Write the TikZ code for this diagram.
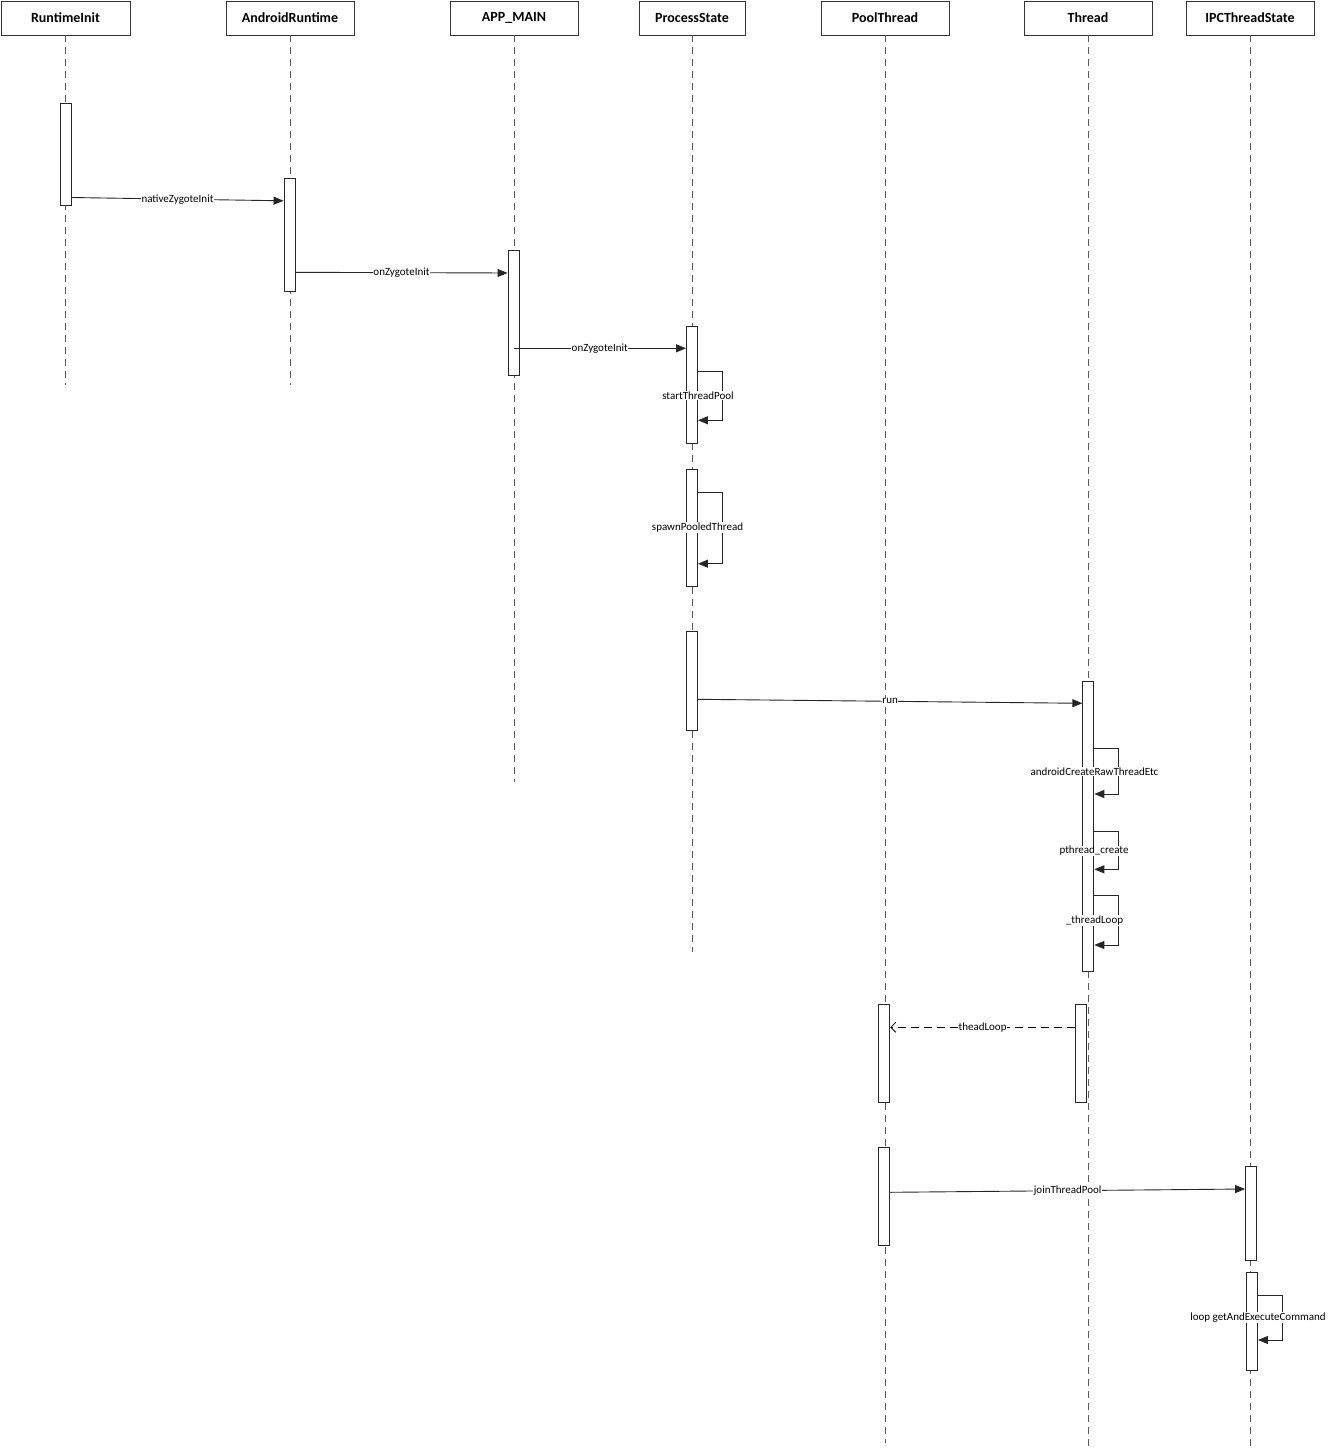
\documentclass[tikz,border=0pt]{standalone}
\usepackage{fontspec}
\setmainfont{Carlito}
\usetikzlibrary{arrows.meta}
\tikzset{
  header/.style={draw=black!80, line width=0.9pt, fill=white, minimum height=34pt, inner sep=0pt, font=\fontsize{14}{16}\selectfont\bfseries},
  lifeline/.style={draw=black!65, line width=0.9pt, dash pattern=on 7pt off 5pt},
  act/.style={draw=black!85, line width=0.9pt, fill=white, minimum width=11pt, inner sep=0pt},
  msg/.style={draw=black!85, line width=0.9pt, -{Triangle[length=10pt,width=8pt]}},
  reply/.style={draw=black, line width=0.8pt, dash pattern=on 8pt off 5pt, -{Straight Barb[length=5pt,width=10pt]}},
  lbl/.style={fill=white, inner sep=0.6pt, font=\fontsize{11}{12}\selectfont, text=black}
}
\begin{document}
\begin{tikzpicture}[x=1pt,y=-1pt]
\useasboundingbox[fill=white] (0,0) rectangle (1330,1453);
% headers
\node[header, minimum width=129pt] (h1) at (65.5,18) {RuntimeInit};
\node[header, minimum width=128pt] (h2) at (290,18) {AndroidRuntime};
\node[header, minimum width=128pt] (h3) at (514,18) {APP\_MAIN};
\node[header, minimum width=106pt] (h4) at (692,18) {ProcessState};
\node[header, minimum width=128pt] (h5) at (885,18) {PoolThread};
\node[header, minimum width=128pt] (h6) at (1088,18) {Thread};
\node[header, minimum width=128pt] (h7) at (1250,18) {IPCThreadState};
% lifeline ends
\coordinate (e1) at (65.5,385);
\coordinate (e2) at (290,385);
\coordinate (e3) at (514,782);
\coordinate (e4) at (692,952);
\coordinate (e5) at (884.5,1443);
\coordinate (e6) at (1088,1448);
\coordinate (e7) at (1250.5,1448);
\draw[lifeline] (h1.south) -- (e1);
\draw[lifeline] (h2.south) -- (e2);
\draw[lifeline] (h3.south) -- (e3);
\draw[lifeline] (h4.south) -- (e4);
\draw[lifeline] (h5.south) -- (h5.south|-e5);
\draw[lifeline] (h6.south) -- (e6);
\draw[lifeline] (h7.south) -- (h7.south|-e7);
% activation boxes
\node[act, minimum height=102pt] (a1) at (65.5,154) {};
\node[act, minimum height=113pt] (a2) at (289.5,234.5) {};
\node[act, minimum height=125pt] (a3) at (513.5,312.5) {};
\node[act, minimum height=117pt] (p1) at (692,384.5) {};
\node[act, minimum height=117pt] (p2) at (692,527.5) {};
\node[act, minimum height=99pt] (p3) at (692,680.5) {};
\node[act, minimum height=290pt] (t1) at (1088.3,826) {};
\node[act, minimum height=98pt] (t2) at (1080.8,1053.5) {};
\node[act, minimum height=98pt] (q1) at (884.3,1053.5) {};
\node[act, minimum height=98pt] (q2) at (884.3,1196) {};
\node[act, minimum height=94pt] (i1) at (1251,1213) {};
\node[act, minimum height=98pt] (i2) at (1252,1321.5) {};
% messages
\draw[msg] (a1.east|-0,197.5) -- node[lbl]{nativeZygoteInit} (a2.west|-0,200.8);
\draw[msg] (a2.east|-0,272.3) -- node[lbl]{onZygoteInit} (a3.west|-0,273);
\draw[msg] (a3.center|-0,348.3) -- node[lbl]{onZygoteInit} (p1.west|-0,348.3);
\draw[msg] (p1.east|-0,371.3) -- ++(24,0) |- (p1.east|-0,420.3);
\node[lbl] (l1) at (698,395.5) {startThreadPool};
\draw[msg] (p2.east|-0,492.3) -- ++(24,0) |- (p2.east|-0,563.7);
\node[lbl] (l2) at (697.5,527.5) {spawnPooledThread};
\draw[msg] (p3.east|-0,699.3) -- node[lbl]{run} (t1.west|-0,703.3);
\draw[msg] (t1.east|-0,748.7) -- ++(24,0) |- (t1.east|-0,794);
\node[lbl] (l3) at (1094.5,771.7) {androidCreateRawThreadEtc};
\draw[msg] (t1.east|-0,831.7) -- ++(24,0) |- (t1.east|-0,869.3);
\node[lbl] (l4) at (1094,851) {pthread\_create};
\draw[msg] (t1.east|-0,895.7) -- ++(24,0) |- (t1.east|-0,945);
\node[lbl] (l5) at (1094.5,920.7) {\_threadLoop};
\draw[reply] (t2.west|-0,1027.3) -- node[lbl]{theadLoop} (q1.east|-0,1027.3);
\draw[msg] (q2.east|-0,1192.3) -- node[lbl]{joinThreadPool} (i1.west|-0,1189);
\draw[msg] (i2.east|-0,1295) -- ++(24,0) |- (i2.east|-0,1340);
\node[lbl] (l6) at (1258,1317.3) {loop getAndExecuteCommand};
\end{tikzpicture}
\end{document}
